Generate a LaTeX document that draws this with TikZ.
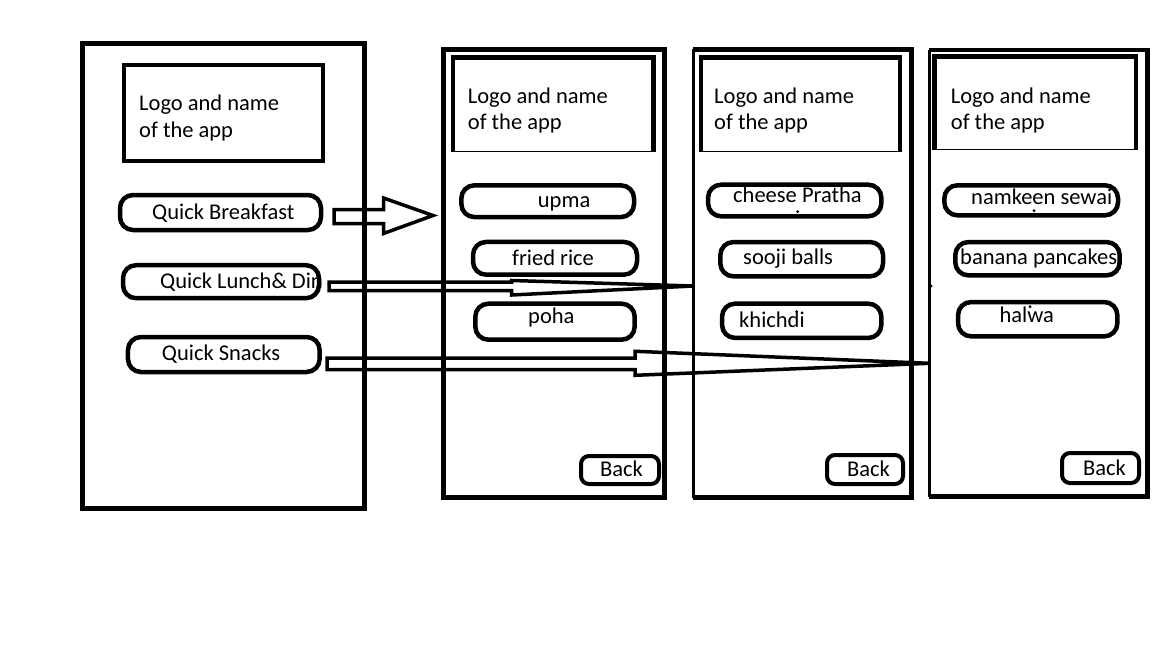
\documentclass[tikz,border=0pt]{standalone}
\usepackage{fontspec}
\setmainfont{Carlito}

\tikzset{
  wh/.style 2 args={minimum width=#1pt, minimum height=#2pt},
  screen/.style={draw, line width=4.5pt, inner sep=0pt},
  logo/.style={draw, line width=4.5pt, inner sep=0pt},
  thinlogo/.style={draw, line width=1.5pt, inner sep=0pt},
  item/.style={draw, line width=4.5pt, rounded corners=13pt, inner sep=0pt},
  backbtn/.style={draw, line width=4pt, rounded corners=8pt, inner sep=0pt},
  txt/.style={anchor=base west, inner sep=0pt, align=left},
  arrowline/.style={draw, line width=3.5pt, line join=miter},
  speck/.style={fill, circle, inner sep=1.1pt}
}

\begin{document}
\begin{tikzpicture}[x=1pt, y=-1pt, font=\fontsize{22.5}{26.5}\selectfont]
  \useasboundingbox (0,0) rectangle (1152,648);
  % screens
  \path node (s1) at ( 223.5,276)   [screen, wh={282}{465}] {}
        node (s2) at ( 554,  273.5) [screen, wh={221}{448}] {}
        node (s3) at ( 802.5,273.5) [wh={218}{448}] {}
        node (s4) at (1038.5,273.2) [wh={218}{446.5}] {};
  \draw[line width=4.5pt] (s3.north west) -- (s3.north east) -- (s3.south east) -- (s3.south west)
        (s4.north west) -- (s4.north east) -- (s4.south east) -- (s4.south west);
  \draw[line width=2.5pt] (s3.south west) -- (s3.north west)
        (s4.south west) -- (s4.north west);
  % logo boxes
  \path node (l1) at ( 223.7,112.8) [logo,     wh={199}{96}]     {}
        node (l2) at ( 553.3,104.8) [thinlogo, wh={198.7}{93.5}] {}
        node (l3) at ( 800.5,104.7) [thinlogo, wh={197.8}{93.3}] {}
        node (l4) at (1035.2,103.5) [thinlogo, wh={199.7}{92.4}] {};
  \draw[line width=4.5pt] (l2.south west) -- (l2.north west) -- (l2.north east) -- (l2.south east)
        (l3.south west) -- (l3.north west) -- (l3.north east) -- (l3.south east)
        (l4.south west) -- (l4.north west) -- (l4.north east) -- (l4.south east);
  \path node (l1t) at (139,  137.3) [txt] {Logo and name\\of the app}
        node (l2t) at (467.7,129.8) [txt] {Logo and name\\of the app}
        node (l3t) at (714,  129.8) [txt] {Logo and name\\of the app}
        node (l4t) at (950.7,129.6) [txt] {Logo and name\\of the app};
  % menu buttons
  \path node (bf) at (220.5,212.5) [item, wh={201}{35}]   {}
        node (ld) at (221,  281.7) [item, wh={196}{33}]   {}
        node (sn) at (223.8,354.5) [item, wh={191.7}{35}] {}
        node (bft) at (152,  219)   [txt] {Quick Breakfast}
        node (ldt) at (160,  288.3) [txt] {Quick Lunch\& Din}
        node (snt) at (161.7,360)   [txt] {Quick Snacks};
  % breakfast screen
  \path node (up) at (547.7,201.2) [item, wh={172.7}{31.7}] {}
        node (fr) at (555,  258.3) [item, wh={164}{32.7}]   {}
        node (ph) at (555,  321.7) [item, wh={159.4}{36}]   {}
        node (b2) at (620,  470)   [backbtn, wh={78}{28}]   {}
        node (upt) at (537.7,207.3) [txt] {upma}
        node (frt) at (512,  265.7) [txt] {fried rice}
        node (pht) at (528,  323.3) [txt] {poha}
        node (b2t) at (600,  476)   [txt] {Back};
  % lunch & dinner screen
  \path node (cp) at (794.7,200.5) [item, wh={173.3}{31.6}] {}
        node (sb) at (801.7,259.2) [item, wh={162.7}{34.3}] {}
        node (kh) at (801.7,320.8) [item, wh={159.3}{34.3}] {}
        node (b3) at (865,  469.5) [backbtn, wh={76}{29}]   {}
        node (cpt) at (733,202.3) [txt] {cheese Pratha}
        node (sbt) at (743,264)   [txt] {sooji balls}
        node (kht) at (739,327.3) [txt] {khichdi}
        node (b3t) at (847,476)   [txt] {Back};
  % snacks screen
  \path node (ns) at (1031.2,200.3) [item, wh={173.7}{30}]   {}
        node (bp) at (1037.5,258.7) [item, wh={164.4}{33.3}] {}
        node (hw) at (1037.7,319.2) [item, wh={159.3}{34.3}] {}
        node (b4) at (1100.5,468)   [backbtn, wh={77}{30}]   {}
        node (nst) at (971,  204.3) [txt] {namkeen sewai}
        node (bpt) at (960,  264.3) [txt] {banana pancakes}
        node (hwt) at (999.3,322.3) [txt] {halwa}
        node (b4t) at (1083, 475.5) [txt] {Back};
  % stray specks
  \path node (d1) at (797.7,211.7) [speck] {}
        node (d2) at (1034, 210.7) [speck] {}
        node (d3) at (796.7,311.7) [speck] {}
        node (d4) at (1030, 306.7) [speck] {}
        node (d5) at (931,  286)   [speck] {};
  % block arrows
  \coordinate (bf-to) at (433,215.5);
  \coordinate (ld-to) at (s3.west |- 0,286);
  \coordinate (sn-to) at (s4.west |- 0,363.3);
  \draw[arrowline] (334,209.7) -- (383.5,209.7) -- (383.5,198) -- (bf-to)
        -- (383.5,233.5) -- (383.5,223.7) -- (334,223.7) -- cycle;
  \draw[arrowline] (329,282) -- (511.5,282) -- (511.5,280.5) -- (ld-to)
        -- (511.5,295) -- (511.5,290.5) -- (329,290.5) -- cycle;
  \draw[arrowline] (327,358) -- (635,358) -- (635,351.3) -- (sn-to)
        -- (635,375.3) -- (635,369.7) -- (327,369.7) -- cycle;
\end{tikzpicture}
\end{document}
